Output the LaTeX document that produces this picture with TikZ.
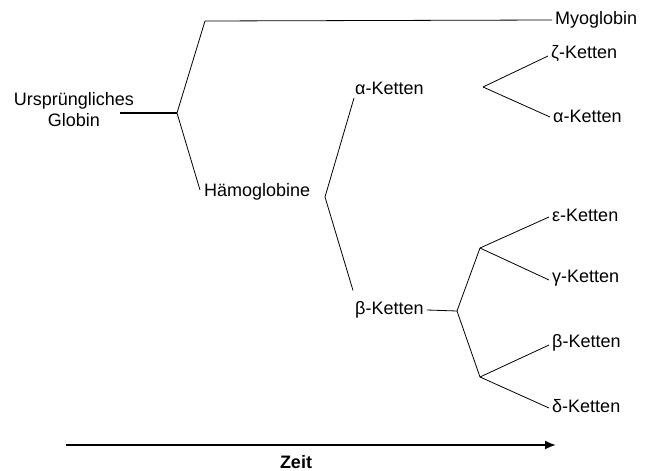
\documentclass[tikz,border=0pt]{standalone}
\usepackage{fontspec}
\setmainfont{Liberation Sans}
\usetikzlibrary{arrows.meta}
\begin{document}
\begin{tikzpicture}[x=1pt,y=-1pt,
  lbl/.style={font=\fontsize{18}{21}\selectfont, inner sep=3pt},
  branch/.style={line width=0.8pt},
  stem/.style={line width=1.4pt},
  timeline/.style={line width=1.8pt, -{Latex[length=11pt,width=9pt]}}]
\useasboundingbox (0,0) rectangle (646,471);
% nodes
\node[lbl, align=center] (urs) at (74,110) {Ursprüngliches\\Globin};
\node[lbl, anchor=west] (myo) at (552,20) {Myoglobin};
\node[lbl, anchor=west] (hamo) at (201,192) {Hämoglobine};
\node[lbl, anchor=south west] (am) at (352,98) {α-Ketten};
\node[lbl, anchor=west] (bm) at (352,310) {β-Ketten};
\node[lbl, anchor=west] (zet) at (548,54) {ζ-Ketten};
\node[lbl, anchor=west] (ar) at (550,116) {α-Ketten};
\node[lbl, anchor=west] (eps) at (549,215) {ε-Ketten};
\node[lbl, anchor=west] (gam) at (549,278) {γ-Ketten};
\node[lbl, anchor=west] (bet) at (549,343) {β-Ketten};
\node[lbl, anchor=west] (del) at (549,406) {δ-Ketten};
\node[lbl, font=\fontsize{18}{21}\selectfont\bfseries] (zeit) at (296,462) {Zeit};
% branch points
\coordinate (r0) at (120,113);
\coordinate (r) at (177,113);
\coordinate (m1) at (205,21);
\coordinate (h) at (325,197);
\coordinate (b) at (457,311);
\coordinate (e1) at (480,248);
\coordinate (e2) at (480,377);
\coordinate (a) at (483,87);
\coordinate (t0) at (66,445);
\coordinate (t1) at (556,445);
% connectors
\draw[stem] (r0) -- (r);
\draw[branch] (r) -- (m1) -- (myo.west);
\draw[branch] (r) -- ([xshift=-1pt,yshift=2pt]hamo.west);
\draw[branch] (h) -- ([xshift=2pt]am.south west);
\draw[branch] (h) -- ([xshift=1pt,yshift=8pt]bm.north west);
\draw[branch] (bm.east) -- (b);
\draw[branch] (b) -- (e1);
\draw[branch] (b) -- (e2);
\draw[branch] (e1) -- ([yshift=-2pt]eps.west);
\draw[branch] (e1) -- ([yshift=-2pt]gam.west);
\draw[branch] (e2) -- ([yshift=-2pt]bet.west);
\draw[branch] (e2) -- ([yshift=-2pt]del.west);
\draw[branch] (a) -- ([yshift=-2pt]zet.west);
\draw[branch] (a) -- ([yshift=-1pt]ar.west);
\draw[timeline] (t0) -- (t1);
\end{tikzpicture}
\end{document}
